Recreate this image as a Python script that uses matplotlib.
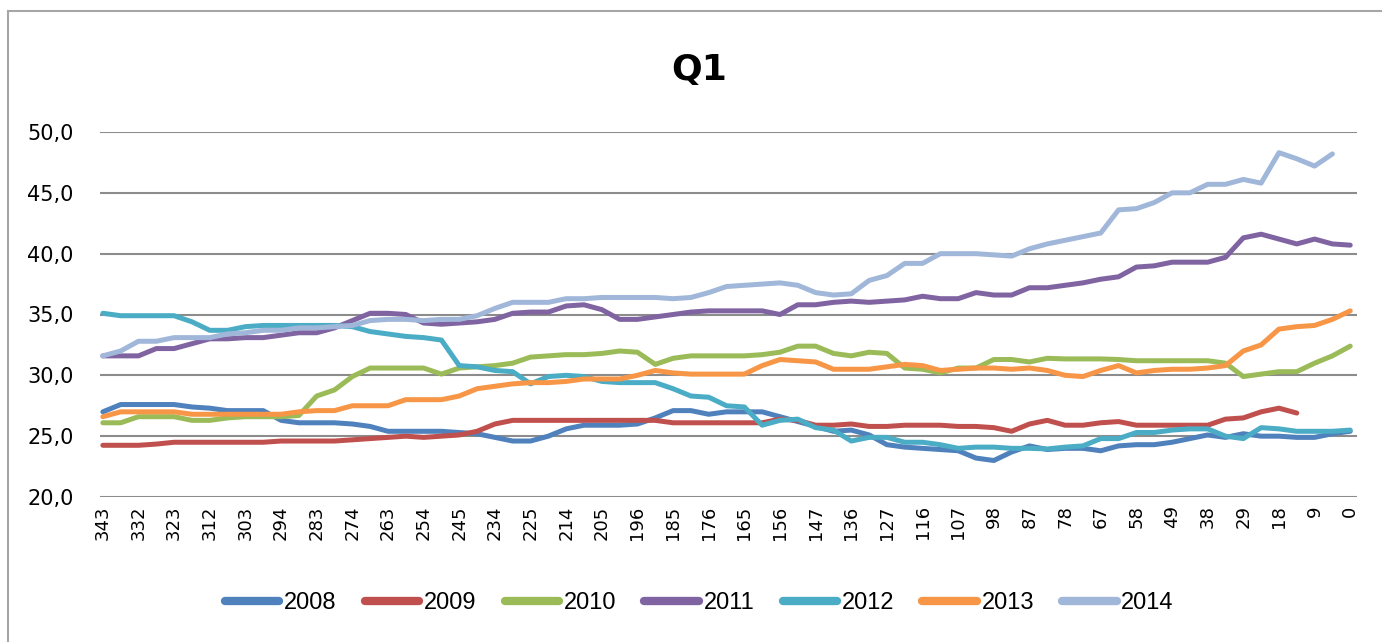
import numpy as np
import matplotlib
matplotlib.use("Agg")
import matplotlib.pyplot as plt
from matplotlib.lines import Line2D

# tick labels on the category axis (days left)
tick_labels = ["343", "332", "323", "312", "303", "294", "283", "274", "263", "254",
               "245", "234", "225", "214", "205", "196", "185", "176", "165", "156",
               "147", "136", "127", "116", "107", "98", "87", "78", "67", "58",
               "49", "38", "29", "18", "9", "0"]

years = ["2008", "2009", "2010", "2011", "2012", "2013", "2014"]

# values read every half label step
s2008 = [27.0, 27.6, 27.6, 27.6, 27.6, 27.4, 27.3, 27.1, 27.1, 27.1,
         26.3, 26.1, 26.1, 26.1, 26.0, 25.8, 25.4, 25.4, 25.4, 25.4,
         25.3, 25.2, 24.9, 24.6, 24.6, 25.0, 25.6, 25.9, 25.9, 25.9,
         26.0, 26.5, 27.1, 27.1, 26.8, 27.0, 27.0, 27.0, 26.6, 26.2,
         25.8, 25.4, 25.5, 25.1, 24.3, 24.1, 24.0, 23.9, 23.8, 23.2,
         23.0, 23.7, 24.2, 23.9, 24.0, 24.0, 23.8, 24.2, 24.3, 24.3,
         24.5, 24.8, 25.1, 24.9, 25.2, 25.0, 25.0, 24.9, 24.9, 25.2, 25.4]
s2009 = [24.25, 24.25, 24.25, 24.35, 24.5, 24.5, 24.5, 24.5, 24.5, 24.5,
         24.6, 24.6, 24.6, 24.6, 24.7, 24.8, 24.9, 25.0, 24.9, 25.0,
         25.1, 25.4, 26.0, 26.3, 26.3, 26.3, 26.3, 26.3, 26.3, 26.3,
         26.3, 26.3, 26.1, 26.1, 26.1, 26.1, 26.1, 26.1, 26.4, 26.3,
         25.9, 25.9, 26.0, 25.8, 25.8, 25.9, 25.9, 25.9, 25.8, 25.8,
         25.7, 25.4, 26.0, 26.3, 25.9, 25.9, 26.1, 26.2, 25.9, 25.9,
         25.9, 25.9, 25.9, 26.4, 26.5, 27.0, 27.3, 26.9]
s2010 = [26.1, 26.1, 26.6, 26.6, 26.6, 26.3, 26.3, 26.5, 26.6, 26.6,
         26.6, 26.7, 28.3, 28.8, 29.9, 30.6, 30.6, 30.6, 30.6, 30.1,
         30.6, 30.7, 30.8, 31.0, 31.5, 31.6, 31.7, 31.7, 31.8, 32.0,
         31.9, 30.9, 31.4, 31.6, 31.6, 31.6, 31.6, 31.7, 31.9, 32.4,
         32.4, 31.8, 31.6, 31.9, 31.8, 30.6, 30.5, 30.2, 30.6, 30.6,
         31.3, 31.3, 31.1, 31.4, 31.35, 31.35, 31.35, 31.3, 31.2, 31.2,
         31.2, 31.2, 31.2, 31.0, 29.9, 30.1, 30.3, 30.3, 31.0, 31.6, 32.4]
s2011 = [31.6, 31.6, 31.6, 32.2, 32.2, 32.6, 33.0, 33.0, 33.1, 33.1,
         33.3, 33.5, 33.5, 33.9, 34.5, 35.1, 35.1, 35.0, 34.3, 34.2,
         34.3, 34.4, 34.6, 35.1, 35.2, 35.2, 35.7, 35.8, 35.4, 34.6,
         34.6, 34.8, 35.0, 35.2, 35.3, 35.3, 35.3, 35.3, 35.0, 35.8,
         35.8, 36.0, 36.1, 36.0, 36.1, 36.2, 36.5, 36.3, 36.3, 36.8,
         36.6, 36.6, 37.2, 37.2, 37.4, 37.6, 37.9, 38.1, 38.9, 39.0,
         39.3, 39.3, 39.3, 39.7, 41.3, 41.6, 41.2, 40.8, 41.2, 40.8, 40.7]
s2012 = [35.1, 34.9, 34.9, 34.9, 34.9, 34.4, 33.7, 33.7, 34.0, 34.1,
         34.1, 34.1, 34.1, 34.1, 34.0, 33.6, 33.4, 33.2, 33.1, 32.9,
         30.8, 30.7, 30.4, 30.3, 29.3, 29.9, 30.0, 29.9, 29.5, 29.4,
         29.4, 29.4, 28.9, 28.3, 28.2, 27.5, 27.4, 25.9, 26.3, 26.4,
         25.7, 25.5, 24.6, 24.9, 24.9, 24.5, 24.5, 24.3, 24.0, 24.1,
         24.1, 24.0, 24.0, 23.95, 24.1, 24.2, 24.8, 24.8, 25.3, 25.3,
         25.5, 25.6, 25.6, 25.0, 24.8, 25.7, 25.6, 25.4, 25.4, 25.4, 25.5]
s2013 = [26.6, 27.0, 27.0, 27.0, 27.0, 26.8, 26.8, 26.8, 26.8, 26.8,
         26.8, 27.0, 27.1, 27.1, 27.5, 27.5, 27.5, 28.0, 28.0, 28.0,
         28.3, 28.9, 29.1, 29.3, 29.4, 29.4, 29.5, 29.7, 29.7, 29.7,
         30.0, 30.4, 30.2, 30.1, 30.1, 30.1, 30.1, 30.8, 31.3, 31.2,
         31.1, 30.5, 30.5, 30.5, 30.7, 30.9, 30.8, 30.4, 30.5, 30.6,
         30.6, 30.5, 30.6, 30.4, 30.0, 29.9, 30.4, 30.8, 30.2, 30.4,
         30.5, 30.5, 30.6, 30.8, 32.0, 32.5, 33.8, 34.0, 34.1, 34.6, 35.3]
s2014 = [31.6, 32.0, 32.8, 32.8, 33.1, 33.1, 33.1, 33.4, 33.5, 33.7,
         33.7, 33.9, 33.9, 34.0, 34.1, 34.5, 34.6, 34.6, 34.5, 34.6,
         34.6, 34.9, 35.5, 36.0, 36.0, 36.0, 36.3, 36.3, 36.4, 36.4,
         36.4, 36.4, 36.3, 36.4, 36.8, 37.3, 37.4, 37.5, 37.6, 37.4,
         36.8, 36.6, 36.7, 37.8, 38.2, 39.2, 39.2, 40.0, 40.0, 40.0,
         39.9, 39.8, 40.4, 40.8, 41.1, 41.4, 41.7, 43.6, 43.7, 44.2,
         45.0, 45.0, 45.7, 45.7, 46.1, 45.8, 48.3, 47.8, 47.2, 48.2]

series = [s2008, s2009, s2010, s2011, s2012, s2013, s2014]
colors = ["#4F81BD", "#C0504D", "#9BBB59", "#8064A2", "#4BACC6", "#F79646", "#A0B7DA"]

fig = plt.figure(figsize=(13.82, 6.42), dpi=100)
ax = fig.add_axes([100 / 1382, 1 - 497 / 642, 1257 / 1382, 365 / 642])

for name, vals, c in zip(years, series, colors):
    x = np.arange(len(vals)) * 0.5
    ax.plot(x, vals, color=c, lw=3.6, label=name, solid_capstyle="round",
            solid_joinstyle="round")

ax.set_ylim(20, 50)
ax.set_yticks(np.arange(20, 51, 5))
ax.set_yticklabels([f"{v:.1f}".replace(".", ",") for v in np.arange(20, 51, 5)],
                   fontsize=15)
ax.set_xlim(-0.08, 35.19)
ax.set_xticks(np.arange(len(tick_labels)))
ax.set_xticklabels(tick_labels, rotation=90, fontsize=13)
ax.tick_params(axis="y", length=0, pad=19)
ax.tick_params(axis="x", length=0, pad=6)
ax.grid(axis="y", color="#8c8c8c", lw=1.5)
ax.set_axisbelow(True)
for sp in ax.spines.values():
    sp.set_visible(False)

fig.text(0.506, 1 - 70 / 642, "Q1", ha="center", va="center",
         fontsize=26, fontweight="bold")

# outer chart border (only top and left visible)
fig.add_artist(Line2D([7.5 / 1382, 1], [1 - 11 / 642, 1 - 11 / 642],
                      transform=fig.transFigure, color="#a6a6a6", lw=1.5))
fig.add_artist(Line2D([7.5 / 1382, 7.5 / 1382], [0, 1 - 11 / 642],
                      transform=fig.transFigure, color="#a6a6a6", lw=1.5))

leg = fig.legend(loc="center", bbox_to_anchor=(0.506, 1 - 603 / 642), ncol=7,
                 frameon=False, handlelength=2.3, handletextpad=0.2,
                 columnspacing=1.2,
                 prop={"family": "Liberation Sans", "size": 17})
for h in leg.get_lines():
    h.set_linewidth(6)
    h.set_solid_capstyle("round")

fig.savefig("out.png", dpi=100)
